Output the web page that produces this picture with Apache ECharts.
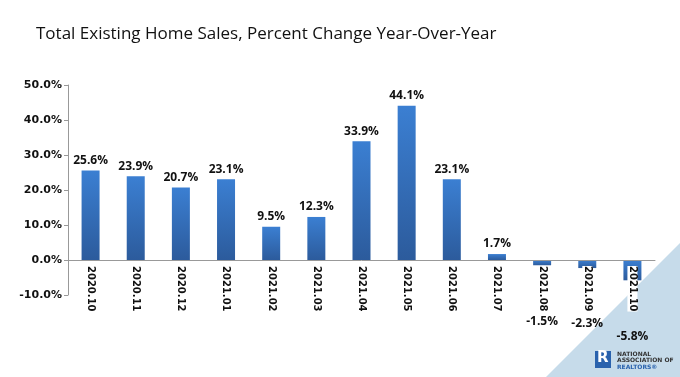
<!DOCTYPE html>
<html>
<head>
<meta charset="utf-8">
<script src="https://cdn.jsdelivr.net/npm/echarts@6/dist/echarts.min.js"></script>
<style>
  html, body { margin: 0; padding: 0; background: #fff; }
  #chart { width: 680px; height: 377px; }
</style>
</head>
<body>
<div id="chart"></div>
<script>
const months = ['2020.10', '2020.11', '2020.12', '2021.01', '2021.02', '2021.03', '2021.04',
  '2021.05', '2021.06', '2021.07', '2021.08', '2021.09', '2021.10']
const yoyChange = [25.6, 23.9, 20.7, 23.1, 9.5, 12.3, 33.9, 44.1, 23.1, 1.7, -1.5, -2.3, -5.8]

const chart = echarts.init(document.getElementById('chart'))

const barFill = new echarts.graphic.LinearGradient(0, 0, 0, 1, [
  { offset: 0, color: '#3b7fd2' },
  { offset: 1, color: '#2c5b9c' },
])

chart.setOption({
  animation: false,
  title: {
    text: 'Total Existing Home Sales, Percent Change Year-Over-Year',
    left: 31,
    top: 21,
    textStyle: { fontFamily: 'Open Sans', fontSize: 17, fontWeight: 'normal', color: '#111' },
  },
  graphic: [
    {
      type: 'polygon',
      z: -1,
      shape: { points: [[680, 243], [546, 377], [680, 377]] },
      style: { fill: '#c6dbea' },
    },
    {
      type: 'rect',
      shape: { x: 595, y: 351, width: 16, height: 17 },
      style: { fill: '#2a62ad' },
    },
    {
      type: 'text',
      left: 597,
      top: 351,
      style: { text: 'R', fill: '#fff', font: 'bold 15px "DejaVu Sans"' },
    },
    {
      type: 'text',
      left: 617,
      top: 351,
      style: {
        text: 'NATIONAL\nASSOCIATION OF\n{b|REALTORS®}',
        fill: '#333',
        font: 'bold 6px "DejaVu Sans"',
        lineHeight: 6.5,
        rich: { b: { fill: '#2a62ad', font: 'bold 6px "DejaVu Sans"' } },
      },
    },
  ],
  grid: { left: 68, right: 25, top: 85, bottom: 82 },
  xAxis: {
    type: 'category',
    data: months,
    position: 'bottom',
    offset: -35,
    z: 5,
    axisLine: { onZero: false, lineStyle: { color: '#999' } },
    axisTick: { inside: true, length: 4, lineStyle: { color: '#999' } },
    axisLabel: {
      rotate: -90,
      margin: 6,
      color: '#111',
      fontWeight: 'bold',
      fontFamily: 'DejaVu Sans',
      fontSize: 10,
      backgroundColor: '#fff',
    },
  },
  yAxis: {
    type: 'value',
    min: -10,
    max: 50,
    interval: 10,
    axisLine: { show: true, lineStyle: { color: '#999' } },
    axisTick: { show: true, length: 4, lineStyle: { color: '#999' } },
    splitLine: { show: false },
    axisLabel: {
      formatter: (v) => v.toFixed(1) + '%',
      color: '#111',
      fontWeight: 'bold',
      fontFamily: 'DejaVu Sans',
      fontSize: 11,
      margin: 6,
    },
  },
  series: [
    {
      type: 'bar',
      barWidth: 18,
      data: yoyChange.map((v) => ({
        value: v,
        label: v < 0 ? { position: 'bottom', distance: 50 } : { position: 'top' },
      })),
      itemStyle: { color: barFill },
      label: {
        show: true,
        formatter: (p) => p.value.toFixed(1) + '%',
        color: '#111',
        fontFamily: 'Open Sans',
        fontWeight: 'bold',
        fontSize: 12,
        distance: 4,
      },
    },
  ],
})
</script>
</body>
</html>
